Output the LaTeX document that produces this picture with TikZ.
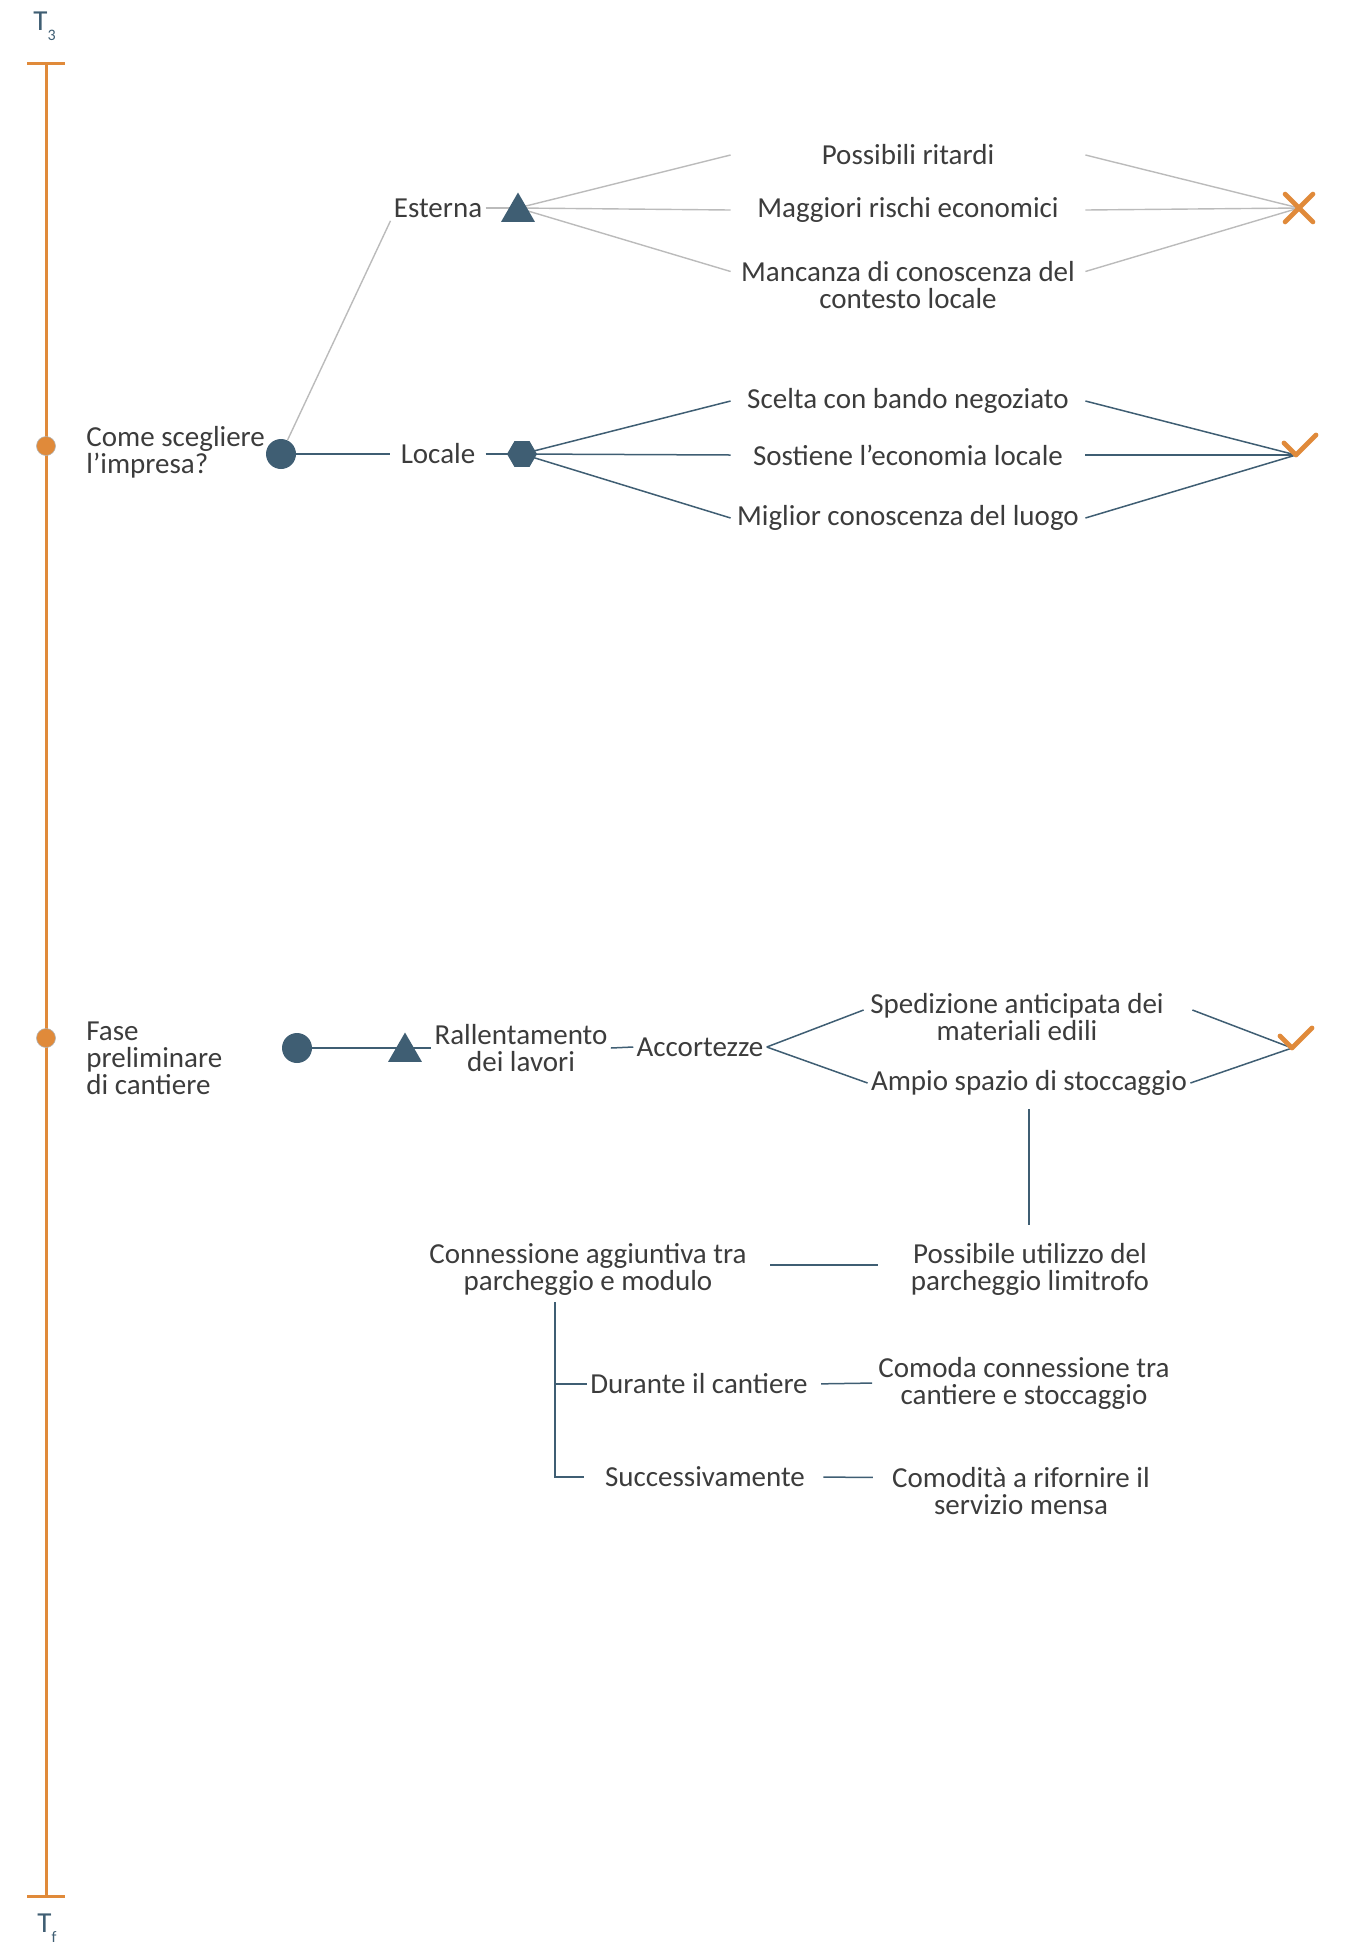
\documentclass[tikz,border=0pt]{standalone}
\usepackage{fontspec}
\setmainfont{Carlito}
\usetikzlibrary{shapes.geometric,shapes.misc,backgrounds}

\definecolor{ardesia}{HTML}{3F5E73}
\definecolor{arancio}{HTML}{E08A3A}
\definecolor{testo}{HTML}{3C3C3C}
\definecolor{grigio}{HTML}{BBBBBB}

\begin{document}
\begin{tikzpicture}[
    x=0.5pt, y=-0.5pt,
    every node/.style={
        font=\fontsize{14.5}{13.5}\selectfont,
        text=testo
    },
    lbl/.style={inner sep=1.5pt},
    opt/.style={
        text width=174pt,
        align=flush center,
        inner xsep=1.5pt
    },
    dot/.style={circle, fill=ardesia, minimum size=15pt, inner sep=0pt},
    hexa/.style={regular polygon, regular polygon sides=6, fill=ardesia,
        minimum size=15pt, inner sep=0pt},
    tri/.style={regular polygon, regular polygon sides=3, fill=ardesia,
        minimum size=19.5pt, inner sep=0pt},
    tappa/.style={circle, fill=arancio, draw=gray!60, line width=0.3pt,
        minimum size=9.5pt, inner sep=0pt},
    scarto/.style={cross out, draw=arancio, line width=2.4pt, line cap=round,
        minimum size=11.5pt, inner sep=0pt},
    gline/.style={draw=grigio, line width=0.7pt},
    bline/.style={draw=ardesia, line width=0.75pt},
    signo/.style={draw=arancio, line width=2.4pt, line cap=round, line join=round},
    tempo/.style={text=ardesia, inner sep=0pt, anchor=base west}
]

\useasboundingbox (0,0) rectangle (1351,1955);

% linea del tempo
\node[tempo] (t3) at (33,30) {T\raisebox{-5pt}{\footnotesize 3}};
\node[tempo] (tf) at (37,1932) {T\raisebox{-5pt}{\footnotesize f}};
\coordinate (inizio) at (46,63);
\coordinate (fine) at (46,1896);
\draw[arancio, line width=1.5pt] (inizio) -- (fine);
\draw[arancio, line width=1.5pt] ([xshift=-9.5pt]inizio) -- ([xshift=9.5pt]inizio);
\draw[arancio, line width=1.5pt] ([xshift=-9.5pt]fine) -- ([xshift=9.5pt]fine);
\node[tappa] (fase1) at (46,446) {};
\node[tappa] (fase2) at (46,1038) {};

% scelta dell'impresa
\node[lbl, anchor=west, align=left] (domanda) at (83,452) {Come scegliere\\l’impresa?};
\node[dot] (radice1) at (281,454) {};
\node[lbl, inner xsep=5pt] (locale) at (438,454) {Locale};
\node[hexa] (esa) at (522,454) {};
\node[lbl] (esterna) at (438,208) {Esterna};
\node[tri] (tri1) at (518,212) {};
\coordinate (perno1) at (esterna -| tri1);

\node[opt] (ritardi) at (908,155) {Possibili ritardi};
\node[opt] (rischi) at (908,210) {Maggiori rischi economici};
\node[opt] (mancanza) at (908,285) {Mancanza di conoscenza del\\contesto locale};
\node[scarto] (no1) at (1299,208) {};

\node[opt] (bando) at (908,401) {Scelta con bando negoziato};
\node[opt] (sostiene) at (908,455) {Sostiene l’economia locale};
\node[opt] (luogo) at (908,518) {Miglior conoscenza del luogo};
\coordinate (spunta1) at (1296,455);
\draw[signo] ([shift={(-12,-12)}]spunta1) -- (spunta1) -- ([shift={(20,-20)}]spunta1);

% fase preliminare
\node[lbl, anchor=west, align=left] (fase) at (83,1058) {Fase\\preliminare\\di cantiere};
\node[dot] (radice2) at (297,1048) {};
\node[tri] (tri2) at (405,1052) {};
\node[lbl, align=center] (rall) at (521,1048) {Rallentamento\\dei lavori};
\node[lbl] (accort) at (700,1047) {Accortezze};
\node[lbl, text width=150pt, align=flush center] (sped) at (1017,1017) {Spedizione anticipata dei\\materiali edili};
\node[lbl] (ampio) at (1029,1083) {Ampio spazio di stoccaggio};
\coordinate (spunta2) at (1292,1048);
\draw[signo] ([shift={(-12,-12)}]spunta2) -- (spunta2) -- ([shift={(20,-20)}]spunta2);

\node[lbl, align=center] (conn) at (588,1269) {Connessione aggiuntiva tra\\parcheggio e modulo};
\node[lbl, align=center] (possib) at (1030,1269) {Possibile utilizzo del\\parcheggio limitrofo};
\node[lbl] (durante) at (699,1384) {Durante il cantiere};
\node[lbl, align=center] (comoda) at (1024,1383) {Comoda connessione tra\\cantiere e stoccaggio};
\node[lbl] (succ) at (705,1477) {Successivamente};
\node[lbl, align=center] (comodita) at (1021,1491) {Comodità a rifornire il\\servizio mensa};
\coordinate (snodo) at ([xshift=-16.5pt, yshift=-2pt]conn.south);

\begin{scope}[on background layer]
    \draw[gline] (radice1) -- (esterna.south west);
    \draw[gline] (esterna.east) -- (perno1);
    \draw[gline] (perno1) -- (ritardi.west);
    \draw[gline] (perno1) -- (rischi.west);
    \draw[gline] (perno1) -- ([yshift=6.75pt]mancanza.west);
    \draw[gline] (ritardi.east) -- (no1.center);
    \draw[gline] (rischi.east) -- (no1.center);
    \draw[gline] ([yshift=6.75pt]mancanza.east) -- (no1.center);

    \draw[bline] (radice1) -- (locale.west);
    \draw[bline] (locale.east) -- (esa.center);
    \draw[bline] (esa.center) -- (bando.west);
    \draw[bline] (esa.center) -- (sostiene.west);
    \draw[bline] (esa.center) -- (luogo.west);
    \draw[bline] (bando.east) -- (spunta1);
    \draw[bline] (sostiene.east) -- (spunta1);
    \draw[bline] (luogo.east) -- (spunta1);

    \draw[bline] (radice2) -- (rall.west);
    \draw[bline] (rall.east) -- (accort.west);
    \draw[bline] (accort.east) -- ([yshift=3.5pt]sped.west);
    \draw[bline] (accort.east) -- (ampio.west);
    \draw[bline] ([xshift=11pt, yshift=3.5pt]sped.east) -- (spunta2);
    \draw[bline] (ampio.east) -- (spunta2);

    \draw[bline, shorten <=5pt, shorten >=7.5pt] (ampio.south) -- (ampio.south |- possib.north);
    \draw[bline, shorten <=10pt, shorten >=15pt] ([yshift=2pt]conn.east) -- ([yshift=2pt]possib.west);
    \draw[bline] (snodo) |- (durante.west);
    \draw[bline] (snodo) |- ([xshift=-9pt]succ.west);
    \draw[bline, shorten <=5pt, shorten >=1.5pt] (durante.east) -- (comoda.west);
    \draw[bline, shorten <=7.5pt, shorten >=8pt] (succ.east) -- ([yshift=6.75pt]comodita.west);
\end{scope}

\end{tikzpicture}
\end{document}
